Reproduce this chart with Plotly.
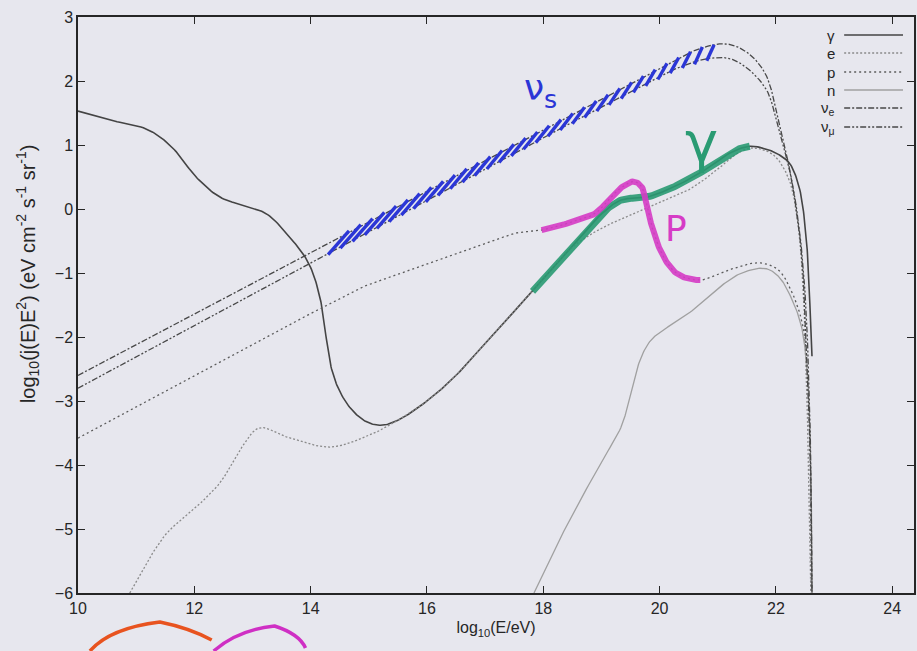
import numpy as np
import plotly.graph_objects as go

# ---- spectra: log10(E/eV) and log10(j(E) E^2) -------------------------------
gamma_x = [10.0, 10.5, 11.2, 11.6, 12.05, 12.45, 12.9, 13.25, 13.6, 13.95, 14.15, 14.25,
           14.36, 14.5, 14.7, 14.95, 15.2, 15.5, 16.0, 16.5, 17.0, 17.5, 18.0, 18.44,
           19.01, 19.34, 19.8, 20.37, 20.9, 21.2, 21.55, 21.85, 22.05, 22.23, 22.4,
           22.52, 22.57, 22.62]
gamma_y = [1.53, 1.40, 1.24, 0.98, 0.48, 0.18, 0.04, -0.08, -0.40, -0.82, -1.34, -1.91,
           -2.50, -2.85, -3.13, -3.32, -3.38, -3.30, -3.00, -2.60, -2.10, -1.60, -1.10, -0.64,
           -0.07, 0.14, 0.19, 0.40, 0.68, 0.87, 0.98, 0.93, 0.85, 0.72, 0.34,
           -0.44, -1.22, -2.30]

e_x = [10.89, 11.18, 11.53, 11.92, 12.44, 12.78, 13.12, 13.58, 14.32, 14.89, 15.35,
       16.0, 16.5, 17.0, 17.5, 18.0, 18.44, 19.0, 19.5, 19.98, 20.5, 21.0, 21.3,
       21.55, 21.8, 22.0, 22.23, 22.37, 22.45, 22.52, 22.57, 22.6]
e_y = [-6.0, -5.53, -5.06, -4.75, -4.28, -3.77, -3.42, -3.56, -3.72, -3.58, -3.38,
       -3.00, -2.60, -2.10, -1.60, -1.10, -0.64, -0.30, -0.10, 0.09, 0.30, 0.62, 0.85,
       0.95, 0.92, 0.81, 0.45, -0.17, -0.95, -2.5, -4.5, -6.0]

p_x = [10.0, 11.0, 12.0, 13.0, 13.46, 14.2, 14.84, 15.5, 16.3, 17.0, 17.51, 17.97,
       18.43, 18.89, 19.29, 19.55, 19.69, 19.78, 19.92, 20.1, 20.33, 20.7, 21.0, 21.3,
       21.71, 22.04, 22.26, 22.44, 22.52, 22.58, 22.61]
p_y = [-3.58, -3.09, -2.60, -2.12, -1.89, -1.54, -1.24, -1.02, -0.77, -0.55, -0.38, -0.33,
       -0.22, -0.07, 0.30, 0.43, 0.35, 0.04, -0.43, -0.80, -1.03, -1.11, -1.02, -0.92,
       -0.84, -0.95, -1.27, -1.73, -2.25, -3.5, -6.0]

n_x = [17.84, 18.1, 18.39, 18.95, 19.35, 19.52, 19.69, 19.85, 20.05, 20.5, 20.96, 21.41,
       21.82, 22.05, 22.26, 22.44, 22.54, 22.6, 22.62]
n_y = [-6.0, -5.5, -4.97, -4.03, -3.38, -2.80, -2.30, -2.05, -1.90, -1.63, -1.27, -1.0,
       -0.93, -1.06, -1.38, -1.84, -2.6, -4.0, -6.0]

nue_x = [10.0, 12.0, 14.0, 16.0, 17.22, 18.5, 19.5, 20.2, 20.67, 21.14, 21.5, 21.82,
         22.04, 22.26, 22.44, 22.52, 22.59, 22.62]
nue_y = [-2.6, -1.64, -0.68, 0.28, 0.86, 1.47, 1.95, 2.29, 2.50, 2.58, 2.45, 2.11,
         1.39, 0.50, -0.69, -2.25, -3.81, -6.0]

numu_x = [10.0, 12.0, 14.0, 16.0, 18.0, 19.5, 20.3, 20.9, 21.3, 21.82, 22.04, 22.25,
          22.4, 22.5, 22.56, 22.6, 22.62]
numu_y = [-2.8, -1.82, -0.84, 0.14, 1.12, 1.82, 2.20, 2.36, 2.32, 1.89, 1.25, 0.55,
          -0.30, -1.30, -2.50, -4.0, -6.0]

x_ticks = [10, 12, 14, 16, 18, 20, 22, 24]
y_ticks = [-6, -5, -4, -3, -2, -1, 0, 1, 2, 3]

# pen marks added over the printed curves
green_span = (17.79, 21.55)   # photons
pink_span = (17.97, 20.7)     # protons
hatch_span = (14.3, 21.0)     # neutrino band

BG = "#e7e7ee"
INK = "#262626"
FONT = "Liberation Sans"

PLOT_L, PLOT_R, PLOT_T, PLOT_B = 78, 916, 17, 593
X_UNIT, Y_UNIT = 58.3, 64.0          # pixels per decade on each axis


def smooth(xs, ys, n=16):
    """Centripetal Catmull-Rom through the nodes, evaluated in screen-like units."""
    P = np.column_stack([np.asarray(xs, float) * X_UNIT, np.asarray(ys, float) * Y_UNIT])
    P = np.vstack([2 * P[0] - P[1], P, 2 * P[-1] - P[-2]])
    out = [P[1]]
    for i in range(1, len(P) - 2):
        p0, p1, p2, p3 = P[i - 1], P[i], P[i + 1], P[i + 2]
        t0 = 0.0
        t1 = t0 + max(np.linalg.norm(p1 - p0), 1e-6) ** 0.5
        t2 = t1 + max(np.linalg.norm(p2 - p1), 1e-6) ** 0.5
        t3 = t2 + max(np.linalg.norm(p3 - p2), 1e-6) ** 0.5
        for t in np.linspace(t1, t2, n + 1)[1:]:
            a1 = (t1 - t) / (t1 - t0) * p0 + (t - t0) / (t1 - t0) * p1
            a2 = (t2 - t) / (t2 - t1) * p1 + (t - t1) / (t2 - t1) * p2
            a3 = (t3 - t) / (t3 - t2) * p2 + (t - t2) / (t3 - t2) * p3
            b1 = (t2 - t) / (t2 - t0) * a1 + (t - t0) / (t2 - t0) * a2
            b2 = (t3 - t) / (t3 - t1) * a2 + (t - t1) / (t3 - t1) * a3
            out.append((t2 - t) / (t2 - t1) * b1 + (t - t1) / (t2 - t1) * b2)
    out = np.array(out)
    return out[:, 0] / X_UNIT, out[:, 1] / Y_UNIT


styles = {
    "γ": dict(color="#444444", width=1.6, dash="solid"),
    "e": dict(color="#8a8a8a", width=1.3, dash="2px,2px"),
    "p": dict(color="#5c5c5c", width=1.3, dash="2px,3px"),
    "n": dict(color="#a0a0a0", width=1.3, dash="solid"),
    "ν<sub>e</sub>": dict(color="#484848", width=1.3, dash="6px,2px,2px,2px"),
    "ν<sub>μ</sub>": dict(color="#484848", width=1.3, dash="6px,2px,2px,2px,2px,2px"),
}
series = [
    ("γ", gamma_x, gamma_y),
    ("e", e_x, e_y),
    ("p", p_x, p_y),
    ("n", n_x, n_y),
    ("ν<sub>e</sub>", nue_x, nue_y),
    ("ν<sub>μ</sub>", numu_x, numu_y),
]

fig = go.Figure()
curves = {}
for name, xs, ys in series:
    sx, sy = smooth(xs, ys)
    curves[name] = (sx, sy)
    fig.add_trace(go.Scatter(x=sx, y=sy, mode="lines", name=name, line=styles[name],
                             showlegend=False, hoverinfo="skip"))


def span(curve, lo, hi):
    xa, ya = curve
    m = (xa >= lo) & (xa <= hi)
    return xa[m], ya[m]


# blue hatching between the two neutrino curves
hx, hy = [], []
for x0 in np.arange(hatch_span[0], hatch_span[1] + 0.01, 0.21):
    f = (x0 - hatch_span[0]) / (hatch_span[1] - hatch_span[0])
    x1 = x0 + 0.36 - 0.24 * f
    y0 = float(np.interp(x0, numu_x, numu_y)) - 0.02
    y1 = float(np.interp(x1, nue_x, nue_y)) + 0.02
    hx += [x0, x1, None]
    hy += [y0, y1, None]
fig.add_trace(go.Scatter(x=hx, y=hy, mode="lines", showlegend=False, hoverinfo="skip",
                         line=dict(color="#2b36d6", width=3.4)))

gx, gy = span(curves["γ"], *green_span)
fig.add_trace(go.Scatter(x=gx, y=gy, mode="lines", showlegend=False, hoverinfo="skip",
                         opacity=0.9, line=dict(color="#2a9b73", width=7)))

px_, py_ = span(curves["p"], *pink_span)
fig.add_trace(go.Scatter(x=px_, y=py_, mode="lines", showlegend=False, hoverinfo="skip",
                         opacity=0.9, line=dict(color="#d63cc6", width=6)))

# hand-written labels
fig.add_annotation(x=17.95, y=1.85, text="ν<sub>s</sub>", showarrow=False,
                   font=dict(family="DejaVu Sans", size=36, color="#2b36d6"))
fig.add_annotation(x=20.72, y=1.05, text="γ", showarrow=False,
                   font=dict(family="DejaVu Sans", size=56, color="#2a9b73"))
fig.add_annotation(x=20.28, y=-0.3, text="P", showarrow=False,
                   font=dict(family="DejaVu Sans", size=36, color="#d63cc6"))


def to_paper(px, py):
    return (px - PLOT_L) / (PLOT_R - PLOT_L), (PLOT_B - py) / (PLOT_B - PLOT_T)


# key: label on the left, line sample on the right
key_rows = [35, 53, 72, 90, 108, 127]
for (name, _, _), row in zip(series, key_rows):
    xa, ya = to_paper(839, row)
    fig.add_annotation(x=xa, y=ya, xref="paper", yref="paper", text=name,
                       xanchor="right", yanchor="middle", showarrow=False,
                       font=dict(family=FONT, size=15, color=INK))
    xs0, ys0 = to_paper(846, row)
    xs1, _ = to_paper(905, row)
    fig.add_shape(type="line", xref="paper", yref="paper", x0=xs0, x1=xs1, y0=ys0, y1=ys0,
                  line=styles[name])

# pen loops below the frame
scribbles = [
    ("#e8531f", [(90, 651), (110, 628), (160, 622), (190, 628), (212, 640), (222, 651)]),
    ("#cf2fc4", [(214, 651), (238, 630), (275, 626), (300, 634), (306, 648)]),
]
for colr, pts in scribbles:
    pp = [to_paper(a, b) for a, b in pts]
    path = "M {:.4f} {:.4f} ".format(*pp[0])
    for i in range(1, len(pp) - 1, 2):
        path += "Q {:.4f} {:.4f} {:.4f} {:.4f} ".format(*pp[i], *pp[i + 1])
    fig.add_shape(type="path", xref="paper", yref="paper", path=path,
                  line=dict(color=colr, width=3.5))

axis_common = dict(showline=True, linecolor=INK, linewidth=1.5, mirror="ticks",
                   ticks="inside", ticklen=7, tickcolor=INK, tickwidth=1.2,
                   showgrid=False, zeroline=False,
                   tickfont=dict(family=FONT, size=16, color=INK))
fig.update_xaxes(range=[10, 10 + (PLOT_R - PLOT_L) / X_UNIT], tickvals=x_ticks,
                 title=dict(text="log<sub>10</sub>(E/eV)", standoff=6,
                            font=dict(family=FONT, size=16, color=INK)),
                 **axis_common)
fig.update_yaxes(range=[-6, 3], tickvals=y_ticks, **axis_common)

ya_x, ya_y = to_paper(27, 274)
fig.add_annotation(x=ya_x, y=ya_y, xref="paper", yref="paper", textangle=-90,
                   text="log<sub>10</sub>(j(E)E<sup>2</sup>) (eV cm<sup>-2</sup> s<sup>-1</sup> sr<sup>-1</sup>)",
                   showarrow=False, xanchor="center", yanchor="middle",
                   font=dict(family=FONT, size=20, color=INK))

fig.update_layout(width=917, height=651,
                  margin=dict(l=PLOT_L, r=917 - PLOT_R, t=PLOT_T, b=651 - PLOT_B),
                  paper_bgcolor=BG, plot_bgcolor=BG, showlegend=False)

fig.write_html("out.html")
